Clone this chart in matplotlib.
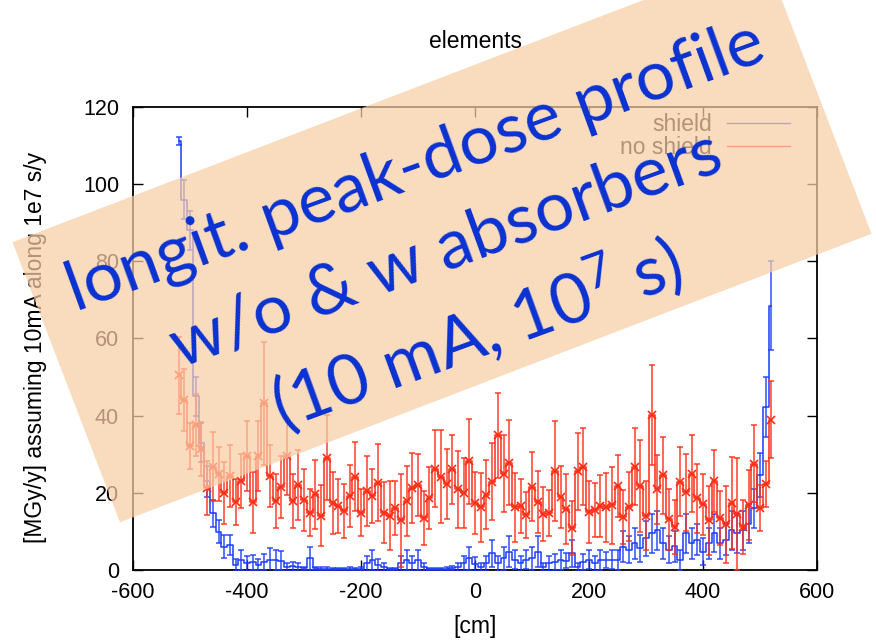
import numpy as np
import matplotlib
matplotlib.use("Agg")
import matplotlib.pyplot as plt
from matplotlib.patches import Polygon
from matplotlib.lines import Line2D

plt.rcParams["font.family"] = ["Liberation Sans", "DejaVu Sans"]
plt.rcParams["axes.unicode_minus"] = False
plt.rcParams["mathtext.fontset"] = "custom"
plt.rcParams["mathtext.rm"] = "Lato"
plt.rcParams["mathtext.it"] = "Lato:italic"

# ---- histogram binning (cm) ----
BIN_FIRST = -520
BIN_LAST = 520
BIN_WIDTH = 10
positions = np.arange(BIN_FIRST, BIN_LAST + 1, BIN_WIDTH)

# ---- peak dose, with absorbers ("shield") [MGy/y] ----
shield = [
    111.2, 96.0, 88.0, 45.0, 33.0, 23.0, 14.7, 9.9, 6.0, 6.5,
    1.3, 2.6, 1.7, 2.0, 1.4, 2.1, 2.6, 2.6, 2.4, 0.7,
    1.0, 0.7, 0.4, 3.0, 0.4, 0.3, 0.3, 0.2, 0.2, 0.2,
    0.3, 0.2, 0.3, 1.7, 2.6, 1.3, 0.7, 0.2, 0.2, 1.7,
    2.6, 1.7, 2.6, 0.7, 0.2, 0.2, 0.2, 0.3, 0.5, 0.8,
    1.7, 3.0, 1.5,
    0.8, 1.7, 4.3, 1.7, 3.0, 4.7, 2.7, 1.7, 2.7, 3.0,
    4.7, 0.8, 1.7, 2.1, 2.6, 2.4, 4.3, 0.8, 2.1, 2.7,
    1.7, 2.6, 2.6, 2.7, 2.6, 6.0, 5.2, 6.9, 5.6, 8.2,
    9.5, 10.3, 6.9, 5.2, 6.2, 2.6, 9.5, 6.9, 7.8, 4.7,
    6.9, 9.6, 6.9, 7.8, 10.3, 9.5, 10.3, 12.0, 16.0, 24.6,
    42.3, 68.5,
]
shield_err = [
    1.0, 5.0, 5.0, 5.0, 5.0, 4.0, 3.5, 3.0, 3.0, 2.5,
    1.5, 2.5, 2.0, 2.0, 1.5, 2.0, 3.0, 2.5, 2.5, 1.0,
    1.2, 1.0, 0.5, 3.0, 0.5, 0.4, 0.4, 0.3, 0.3, 0.3,
    0.4, 0.3, 0.4, 2.0, 2.5, 1.5, 1.0, 0.3, 0.3, 2.0,
    2.5, 2.0, 2.5, 1.0, 0.3, 0.3, 0.3, 0.4, 0.6, 1.0,
    2.0, 3.0, 1.8,
    1.0, 2.0, 3.5, 2.0, 3.0, 4.0, 2.5, 2.0, 2.5, 3.0,
    4.0, 1.0, 2.0, 2.0, 2.5, 2.0, 3.5, 1.0, 2.0, 2.5,
    2.0, 2.5, 2.0, 2.5, 2.5, 4.0, 3.5, 4.0, 3.5, 4.5,
    5.0, 5.0, 4.0, 3.5, 4.0, 2.5, 5.0, 4.0, 4.0, 3.5,
    4.0, 5.0, 4.0, 4.0, 5.0, 5.0, 5.0, 5.0, 5.0, 5.6,
    7.8, 11.5,
]

# ---- peak dose, without absorbers ("no shield") [MGy/y] ----
no_shield = [
    50.5, 44.1, 32.1, 37.6, 31.3, 21.2, 26.8, 24.9, 19.9, 24.4,
    17.7, 23.1, 29.5, 17.5, 29.5, 43.2, 24.4, 17.9, 21.6, 29.5,
    17.9, 22.0, 18.1, 14.9, 19.6, 14.1, 29.1, 17.4, 16.6, 15.3,
    19.2, 24.2, 14.9, 20.5, 19.2, 22.6, 14.9, 14.1, 16.1, 12.9,
    17.9, 21.3, 22.0, 13.5, 18.7, 26.2, 24.2, 22.3, 26.1, 20.9,
    19.9, 28.2, 17.3,
    16.2, 19.5, 22.9, 34.9, 25.0, 27.8, 16.2, 16.6, 14.2, 21.6,
    17.7, 14.5, 14.7, 25.7, 19.0, 15.8, 10.9, 25.6, 26.8, 15.1,
    15.5, 16.6, 16.2, 16.8, 21.8, 13.8, 16.4, 26.8, 21.8, 14.1,
    40.2, 20.9, 24.6, 13.1, 11.2, 22.9, 20.1, 25.0, 18.6, 17.0,
    12.9, 23.0, 13.4, 11.8, 17.4, 14.4, 11.2, 16.8, 27.6, 16.0,
    22.3, 39.0,
]
no_shield_err = [
    10.0, 8.0, 6.0, 8.0, 7.0, 7.0, 9.0, 7.0, 8.0, 8.0,
    6.0, 7.0, 9.0, 8.0, 9.0, 16.0, 8.0, 7.0, 8.0, 10.0,
    7.0, 9.0, 8.0, 6.0, 9.0, 8.0, 11.0, 8.0, 7.0, 7.0,
    8.0, 9.0, 6.0, 9.0, 7.0, 10.0, 8.0, 9.0, 7.0, 12.0,
    9.0, 9.0, 8.0, 7.0, 8.0, 10.0, 12.0, 9.0, 9.0, 10.0,
    9.0, 11.0, 8.0,
    9.0, 9.0, 10.0, 11.0, 10.0, 11.0, 9.0, 7.0, 6.0, 9.0,
    8.0, 7.0, 6.0, 13.0, 8.0, 9.0, 7.0, 10.0, 10.0, 8.0,
    7.0, 8.0, 9.0, 10.0, 8.0, 7.0, 9.0, 10.0, 12.0, 9.0,
    13.0, 9.0, 10.0, 8.0, 7.0, 9.0, 10.0, 10.0, 9.0, 8.0,
    9.0, 8.0, 7.0, 10.0, 12.0, 14.5, 7.0, 9.0, 10.0, 6.0,
    6.0, 10.0,
]

series_labels = ["shield", "no shield"]
x_ticks = [-600, -400, -200, 0, 200, 400, 600]
y_ticks = [0, 20, 40, 60, 80, 100, 120]

BLUE = "#1a3cff"
RED = "#ff2c14"
FS = 16.5
TICK_FS = 15.5

W, H = 876, 644
fig = plt.figure(figsize=(W / 100, H / 100), dpi=100)
fig.patch.set_facecolor("white")

# plotting area in pixel terms (left, top, right, bottom)
L, T, R, B = 133, 107, 817, 570
ax = fig.add_axes([L / W, 1 - B / H, (R - L) / W, (B - T) / H])

for vals, errs, col, mark in [
    (shield, shield_err, BLUE, None),
    (no_shield, no_shield_err, RED, "x"),
]:
    ax.step(positions, vals, where="mid", color=col, lw=1.1, zorder=3)
    ax.errorbar(positions, vals, yerr=errs, fmt="none", ecolor=col,
                elinewidth=1.1, capsize=2.5, capthick=1.1, alpha=0.9, zorder=3)
    if mark:
        ax.plot(positions, vals, mark, color=col, ms=6, mew=1.2, zorder=4)

ax.set_xlim(-600, 600)
ax.set_ylim(0, 120)
ax.set_xticks(x_ticks)
ax.set_yticks(y_ticks)
ax.tick_params(direction="in", length=7, width=1, top=True, right=True,
               labelsize=TICK_FS)
ax.tick_params(axis="x", pad=9)
ax.tick_params(axis="y", pad=10)
for sp in ax.spines.values():
    sp.set_linewidth(1.3)

handles = [Line2D([], [], color=BLUE, lw=1.0), Line2D([], [], color=RED, lw=1.0)]
ax.legend(handles, series_labels, loc="upper right", frameon=False,
          markerfirst=False, fontsize=FS, handlelength=2.75,
          handletextpad=0.65, labelspacing=0.0, borderaxespad=0, borderpad=0,
          bbox_to_anchor=((790 - L) / (R - L), (B - 113) / (B - T)))

fig.text((L + R) / 2 / W, 1 - 42 / H, "elements", ha="center", va="center",
         fontsize=FS)
fig.text((L + R) / 2 / W, 1 - 626 / H, "[cm]", ha="center", va="center",
         fontsize=FS)
fig.text(36 / W, 1 - 347 / H, "[MGy/y] assuming 10mA along 1e7 s/y",
         ha="center", va="center", rotation=90, fontsize=FS)

# ---- tilted callout box over the plot ----
cx, cy = 442, 644 - 238          # centre, pixels from bottom-left
bw, bh, ang = 805, 300, np.deg2rad(21)
u = np.array([np.cos(ang), np.sin(ang)])
v = np.array([-np.sin(ang), np.cos(ang)])
c = np.array([cx, cy])
corners = [c - bw / 2 * u - bh / 2 * v, c + bw / 2 * u - bh / 2 * v,
           c + bw / 2 * u + bh / 2 * v, c - bw / 2 * u + bh / 2 * v]
corners = [(p[0] / W, p[1] / H) for p in corners]
fig.add_artist(Polygon(corners, closed=True, transform=fig.transFigure,
                       facecolor="#f8cda6", edgecolor="none", alpha=0.72,
                       zorder=10))

callout = ["longit. peak-dose profile", "w/o & w absorbers",
           "(10 mA, 10$^{7}$ s)"]
tang = 20
tcx, tcy = 446, 250
spacing = 88
perp = np.array([np.sin(np.deg2rad(tang)), np.cos(np.deg2rad(tang))])
for i, line in enumerate(callout):
    px, py = np.array([tcx, tcy]) + (i - 1) * spacing * perp
    fig.text(px / W, 1 - py / H, line, ha="center", va="center",
             rotation=tang, rotation_mode="anchor", fontsize=50,
             family="Lato", color="#0a32d2", zorder=11)

fig.savefig("out.png", dpi=100)
